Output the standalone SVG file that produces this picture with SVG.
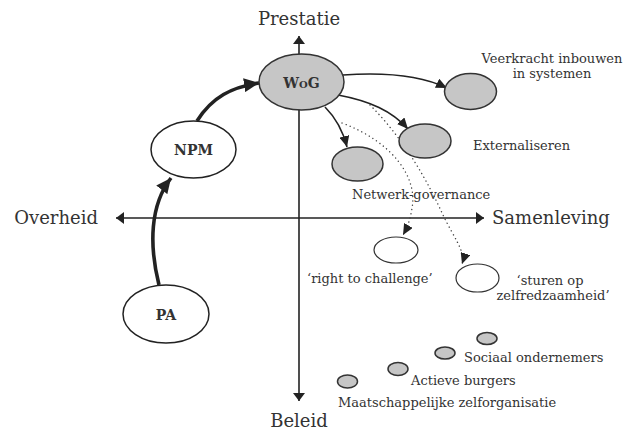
<svg xmlns="http://www.w3.org/2000/svg" width="627" height="430" viewBox="0 0 627 430">
<style>
.bg{fill:#fff}
.axis{stroke:#222;stroke-width:1.6;fill:none}
.thick{stroke:#222;stroke-width:3.6;fill:none}
.thin{stroke:#222;stroke-width:1.6;fill:none}
.dot{stroke:#444;stroke-width:1.4;fill:none;stroke-dasharray:0.1 4.2;stroke-linecap:round}
.wnode{fill:#fff;stroke:#222;stroke-width:1.5}
.gnode{fill:#c6c6c6;stroke:#333;stroke-width:1.5}
.lnode{fill:#fff;stroke:#333;stroke-width:1.2}
.big{font-family:"DejaVu Serif",serif;font-size:18px;fill:#333}
.lbl{font-family:"DejaVu Serif",serif;font-size:13px;fill:#333}
.nl{font-family:"DejaVu Serif",serif;font-size:14px;font-weight:bold;fill:#333;text-anchor:middle}
</style>
<defs>
<marker id="ah" markerUnits="userSpaceOnUse" markerWidth="12" markerHeight="10" refX="11" refY="5" orient="auto"><path d="M0,0 L11,5 L0,10 z" fill="#222"/></marker>
<marker id="ahBig" markerUnits="userSpaceOnUse" markerWidth="16" markerHeight="14" refX="15" refY="7" orient="auto"><path d="M0,0 L15,7 L0,14 z" fill="#222"/></marker>
<marker id="ax" markerUnits="userSpaceOnUse" markerWidth="9" markerHeight="12" refX="8" refY="6" orient="auto"><path d="M0,0 L8,6 L0,12 z" fill="#222"/></marker>
</defs>
<rect class="bg" x="0" y="0" width="627" height="430"/>

<g id="axes">
<line class="axis" x1="299" y1="218" x2="299" y2="36" marker-end="url(#ax)"/>
<line class="axis" x1="299" y1="218" x2="299" y2="401" marker-end="url(#ax)"/>
<line class="axis" x1="299" y1="218" x2="116" y2="218" marker-end="url(#ax)"/>
<line class="axis" x1="299" y1="218" x2="484" y2="218" marker-end="url(#ax)"/>
<text class="big" x="299" y="25" text-anchor="middle">Prestatie</text>
<text class="big" x="299" y="427" text-anchor="middle">Beleid</text>
<text class="big" x="98" y="224" text-anchor="end">Overheid</text>
<text class="big" x="492" y="224">Samenleving</text>
</g>

<g id="connectors">
<path class="thick" d="M159,285 C149,245 150,205 171,178" marker-end="url(#ahBig)"/>
<path class="thick" d="M197,121 C212,97 232,87 259,83" marker-end="url(#ahBig)"/>
<path class="thin" d="M343,75 C385,72 420,75 447,88" marker-end="url(#ah)"/>
<path class="thin" d="M338,95 C370,101 392,111 408,129" marker-end="url(#ah)"/>
<path class="thin" d="M325,107 C336,118 343,131 347,147" marker-end="url(#ah)"/>
<path class="dot" d="M342,123 C393,142 418,178 412,208 C410,221 407,228 403,235" marker-end="url(#ah)"/>
<path class="dot" d="M370,105 C405,140 428,182 443,215 C454,238 466,252 462,264" marker-end="url(#ah)"/>
</g>

<g id="WoG">
<ellipse class="gnode" cx="301.5" cy="82" rx="42.5" ry="28"/>
<text class="nl" x="301.5" y="88" style="font-variant:small-caps">WoG</text>
</g>
<g id="NPM">
<ellipse class="wnode" cx="193.5" cy="149.5" rx="42.5" ry="28.5"/>
<text class="nl" x="193.5" y="155">NPM</text>
</g>
<g id="PA">
<ellipse class="wnode" cx="166" cy="314" rx="43" ry="29"/>
<text class="nl" x="166" y="320">PA</text>
</g>

<g id="veerkracht">
<ellipse class="gnode" cx="470.5" cy="91.5" rx="26" ry="18"/>
<text class="lbl" x="552" y="63" text-anchor="middle">Veerkracht inbouwen</text>
<text class="lbl" x="552" y="78" text-anchor="middle">in systemen</text>
</g>
<g id="externaliseren">
<ellipse class="gnode" cx="425" cy="141" rx="26" ry="17"/>
<text class="lbl" x="473" y="150">Externaliseren</text>
</g>
<g id="netwerk">
<ellipse class="gnode" cx="357.5" cy="164" rx="25.5" ry="17"/>
<text class="lbl" x="352" y="199">Netwerk-governance</text>
</g>
<g id="right-to-challenge">
<ellipse class="lnode" cx="396" cy="250" rx="22" ry="13"/>
<text class="lbl" x="307" y="283">‘right to challenge’</text>
</g>
<g id="sturen">
<ellipse class="lnode" cx="477.5" cy="278" rx="21.5" ry="14"/>
<text class="lbl" x="550" y="285" text-anchor="middle">‘sturen op</text>
<text class="lbl" x="553" y="300" text-anchor="middle">zelfredzaamheid’</text>
</g>
<g id="sociaal">
<ellipse class="gnode" cx="487" cy="338.5" rx="10" ry="6"/>
<ellipse class="gnode" cx="445" cy="353" rx="10" ry="6"/>
<text class="lbl" x="464" y="362">Sociaal ondernemers</text>
</g>
<g id="actieve">
<ellipse class="gnode" cx="398" cy="369" rx="10" ry="6.5"/>
<text class="lbl" x="411" y="385">Actieve burgers</text>
</g>
<g id="maatschappelijk">
<ellipse class="gnode" cx="347.5" cy="381.5" rx="10" ry="6.5"/>
<text class="lbl" x="338" y="407">Maatschappelijke zelforganisatie</text>
</g>
</svg>
